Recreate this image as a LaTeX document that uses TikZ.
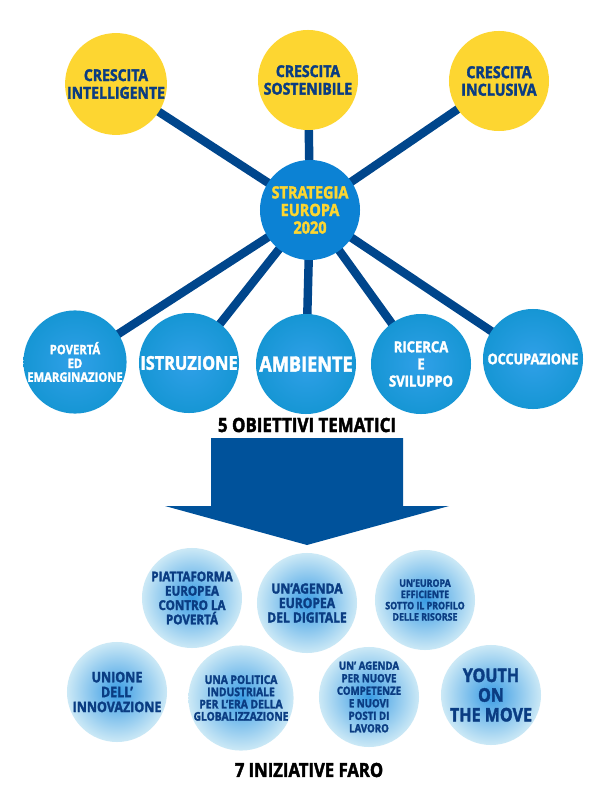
\documentclass[tikz,border=0pt]{standalone}
\usepackage{fontspec}
\setmainfont{Open Sans}[FakeStretch=0.86,BoldFeatures={FakeBold=2}]
\usetikzlibrary{backgrounds}
\definecolor{giallo}{RGB}{253,214,49}
\definecolor{bluscuro}{RGB}{10,60,130}
\definecolor{linea}{RGB}{0,70,140}
\definecolor{hub}{RGB}{12,130,212}
\definecolor{frecciablu}{RGB}{0,82,155}
\definecolor{ciano}{RGB}{22,150,212}
\definecolor{cianoc}{RGB}{48,160,232}
\definecolor{chiaro}{RGB}{204,233,246}
\definecolor{medio}{RGB}{58,156,228}

\begin{document}
\begin{tikzpicture}[x=0.025cm,y=-0.025cm,
  tondo/.style={circle,minimum size=2.5cm,inner sep=0pt,align=center},
  crescita/.style={tondo,fill=giallo,text=bluscuro},
  obiettivo/.style={tondo,shading=radial,inner color=cianoc,outer color=ciano,text=white},
  faro/.style={tondo,shading=radial,inner color=medio,outer color=chiaro,text=bluscuro},
  raggio/.style={linea,line width=6pt}]
  \useasboundingbox (0,0) rectangle (600,800);
  \bfseries
  % centro
  \node[tondo,fill=hub,text=giallo,font=\fontsize{12}{12.5}\selectfont] (strategia) at (310,210) {STRATEGIA\\EUROPA\\2020};
  % tre priorita
  \node[crescita,font=\fontsize{11.6}{12.5}\selectfont] (intell) at (116,84) {CRESCITA\\INTELLIGENTE};
  \node[crescita,font=\fontsize{11.6}{12.5}\selectfont] (sost) at (308,80) {CRESCITA\\SOSTENIBILE};
  \node[crescita,font=\fontsize{11.8}{12.5}\selectfont] (incl) at (499,81) {CRESCITA\\INCLUSIVA};
  % cinque obiettivi
  \node[obiettivo,font=\fontsize{9.3}{9.8}\selectfont] (poverta) at (75,362) {POVERTÁ\\ED\\EMARGINAZIONE};
  \node[obiettivo,font=\fontsize{13.5}{14}\selectfont] (istruz) at (189,363) {ISTRUZIONE};
  \node[obiettivo,font=\fontsize{15}{15}\selectfont] (ambiente) at (306,364) {AMBIENTE};
  \node[obiettivo,font=\fontsize{10.8}{12.2}\selectfont] (ricerca) at (421,364) {RICERCA\\E\\SVILUPPO};
  \node[obiettivo,font=\fontsize{10.5}{12}\selectfont] (occup) at (533,359) {OCCUPAZIONE};
  \begin{scope}[on background layer]
    \fill[white] (0,0) rectangle (600,800);
    \foreach \n in {intell,sost,incl,poverta,istruz,ambiente,ricerca,occup}
      \draw[raggio] (strategia.center) -- (\n.center);
  \end{scope}
  \node[font=\fontsize{14}{14}\selectfont] (obiettivi) at (307,425) {5 OBIETTIVI TEMATICI};
  % freccia
  \fill[frecciablu] (211,438) -- (403,438) -- (403,506) -- (449,506) -- (307,545)
    -- (165,506) -- (211,506) -- cycle;
  % sette iniziative
  \node[faro,font=\fontsize{9.6}{10.2}\selectfont] (piatt) at (192,598) {PIATTAFORMA\\EUROPEA\\CONTRO LA\\POVERTÁ};
  \node[faro,font=\fontsize{10}{10.3}\selectfont] (digitale) at (307,603) {UN’AGENDA\\EUROPEA\\DEL DIGITALE};
  \node[faro,font=\fontsize{7.3}{8}\selectfont] (risorse) at (425,600) {UN’EUROPA\\EFFICIENTE\\SOTTO IL PROFILO\\DELLE RISORSE};
  \node[faro,font=\fontsize{10.3}{10.6}\selectfont] (unione) at (117,692) {UNIONE\\DELL’\\INNOVAZIONE};
  \node[faro,font=\fontsize{8.5}{8.7}\selectfont] (politica) at (241,698) {UNA POLITICA\\INDUSTRIALE\\PER L’ERA DELLA\\GLOBALIZZAZIONE};
  \node[faro,font=\fontsize{8}{8.9}\selectfont] (competenze) at (369,697) {UN’ AGENDA\\PER NUOVE\\COMPETENZE\\E NUOVI\\POSTI DI\\LAVORO};
  \node[faro,font=\fontsize{13.3}{14}\selectfont] (youth) at (491,695) {YOUTH\\ON\\THE MOVE};
  \node[font=\fontsize{13.8}{14}\selectfont] (faro) at (309,770) {7 INIZIATIVE FARO};
\end{tikzpicture}
\end{document}
